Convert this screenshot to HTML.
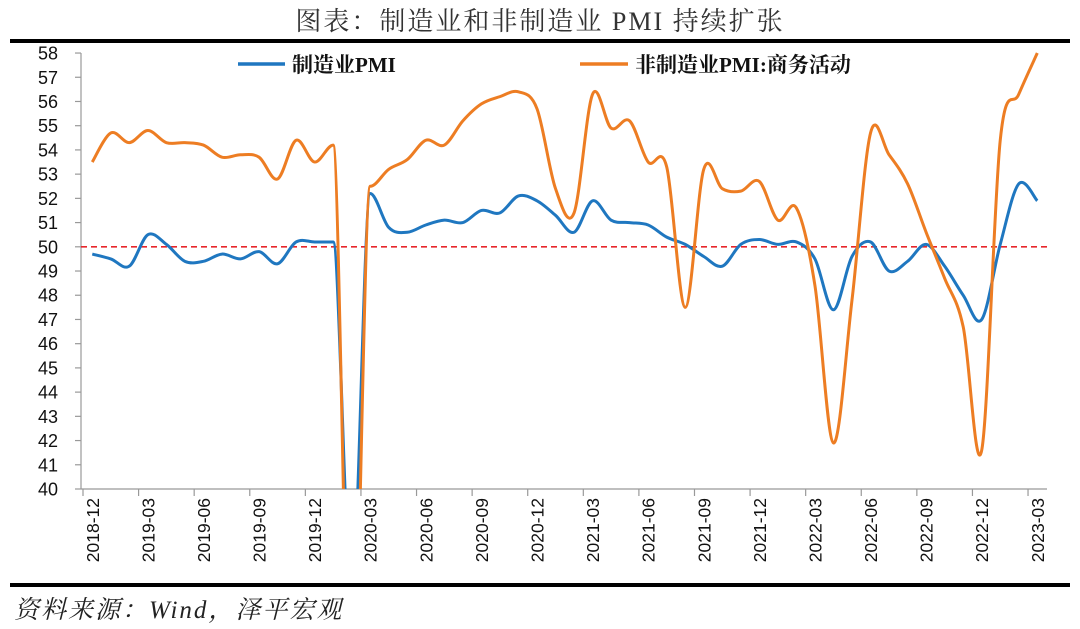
<!DOCTYPE html>
<html><head><meta charset="utf-8"><style>
html,body{margin:0;padding:0;background:#fff;width:1080px;height:629px;overflow:hidden;}
svg{display:block;}
</style></head><body>
<svg id="s" width="1080" height="629" xmlns="http://www.w3.org/2000/svg" style="overflow:hidden">
<defs><clipPath id="c"><rect x="81" y="42" width="966" height="447"/></clipPath></defs>
<text x="540" y="30" text-anchor="middle" font-family="'Liberation Serif','Noto Serif CJK SC',serif" font-size="26" fill="#333" letter-spacing="2">图表：制造业和非制造业 PMI 持续扩张</text>
<rect x="10" y="39" width="1060" height="4" fill="#000"/>
<rect x="10" y="583" width="1060" height="4" fill="#000"/>
<text x="14" y="618" font-family="'Liberation Serif','Noto Serif CJK SC',serif" font-style="italic" font-size="25" fill="#222" letter-spacing="2">资料来源：Wind，泽平宏观</text>
<g id="ax"></g>
<line x1="81" y1="246.8" x2="1047" y2="246.8" stroke="#e8262a" stroke-width="1.6" stroke-dasharray="6,4"/>
<g clip-path="url(#c)" id="lines"></g>
<line x1="238" y1="64" x2="285" y2="64" stroke="#1f77c0" stroke-width="3.5"/>
<text x="292" y="72" font-family="'Liberation Serif','Noto Serif CJK SC',serif" font-weight="bold" font-size="21" fill="#111">制造业PMI</text>
<line x1="580" y1="64" x2="628" y2="64" stroke="#ed7d23" stroke-width="3.5"/>
<text x="635" y="72" font-family="'Liberation Serif','Noto Serif CJK SC',serif" font-weight="bold" font-size="21" fill="#111">非制造业PMI:商务活动</text>
</svg>
<script>
var NS="http://www.w3.org/2000/svg",s=document.getElementById('s'),ax=document.getElementById('ax'),L=document.getElementById('lines');
function el(t,a,p,txt){var e=document.createElementNS(NS,t);for(var k in a)e.setAttribute(k,a[k]);if(txt!=null)e.textContent=txt;(p||ax).appendChild(e);return e;}
var x0=83,dx=18.53,Y=function(v){return 489-(v-40)*24.22;};
el('line',{x1:81,y1:53,x2:81,y2:489,stroke:'#999','stroke-width':1.2});
el('line',{x1:81,y1:489,x2:1047,y2:489,stroke:'#999','stroke-width':1.2});
for(var v=40;v<=58;v++){var y=Y(v);el('line',{x1:75,y1:y,x2:81,y2:y,stroke:'#999','stroke-width':1.2});
el('text',{x:58,y:y+6.5,'text-anchor':'end','font-family':'Liberation Sans,sans-serif','font-size':18,fill:'#111'},null,v);}
var labs=['2018-12','2019-03','2019-06','2019-09','2019-12','2020-03','2020-06','2020-09','2020-12','2021-03','2021-06','2021-09','2021-12','2022-03','2022-06','2022-09','2022-12','2023-03'];
for(var i=0;i<18;i++){var tx=x0+dx*3*i;el('line',{x1:tx,y1:489,x2:tx,y2:496,stroke:'#999','stroke-width':1.2});
var cx=x0+dx*(3*i+0.5)+6.5;el('text',{x:0,y:0,transform:'translate('+cx+',498) rotate(-90)','text-anchor':'end','font-family':'Liberation Sans,sans-serif','font-size':17.5,fill:'#111'},null,labs[i]);}
var m=[49.7,49.5,49.2,50.5,50.1,49.4,49.4,49.7,49.5,49.8,49.3,50.2,50.2,50.2,35.7,52.2,50.8,50.6,50.9,51.1,51.0,51.5,51.4,52.1,51.9,51.3,50.6,51.9,51.1,51.0,50.9,50.4,50.1,49.6,49.2,50.1,50.3,50.1,50.2,49.5,47.4,49.6,50.2,49.0,49.4,50.1,49.2,48.0,47.0,50.1,52.6,51.9];
var n=[53.5,54.7,54.3,54.8,54.3,54.3,54.2,53.7,53.8,53.7,52.8,54.4,53.5,54.2,29.6,52.5,53.2,53.6,54.4,54.2,55.2,55.9,56.2,56.4,55.7,52.4,51.4,56.3,54.9,55.2,53.5,53.3,47.5,53.2,52.4,52.3,52.7,51.1,51.6,48.4,41.9,47.8,54.7,53.8,52.6,50.6,48.7,46.7,41.6,54.4,56.3,58.0];
function path(d){var p=d.map(function(v,i){return [x0+dx*(i+0.5),Y(v)];}),s='M'+p[0][0]+','+p[0][1];
var tg=p.map(function(b,i){var a=p[Math.max(i-1,0)],c=p[Math.min(i+1,p.length-1)];if(i>=13&&i<=15)return [(c[0]-a[0])/6,0];return [(c[0]-a[0])/6,(c[1]-a[1])/6];});
for(var i=0;i<p.length-1;i++){var b=p[i],c=p[i+1];
s+=' C'+(b[0]+tg[i][0])+','+(b[1]+tg[i][1])+' '+(c[0]-tg[i+1][0])+','+(c[1]-tg[i+1][1])+' '+c[0]+','+c[1];}return s;}
el('path',{d:path(m),fill:'none',stroke:'#1f77c0','stroke-width':3},L);
el('path',{d:path(n),fill:'none',stroke:'#ed7d23','stroke-width':3},L);
</script>
</body></html>
